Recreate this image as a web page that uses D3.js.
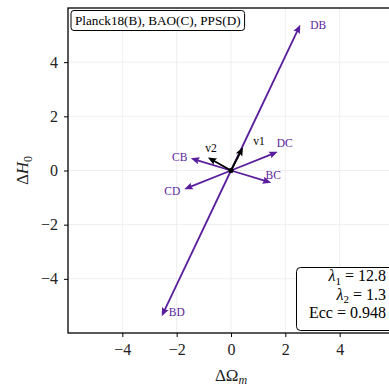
<!DOCTYPE html>
<html>
<head>
<meta charset="utf-8">
<script src="https://cdn.jsdelivr.net/npm/d3@7"></script>
<style>
  html, body { margin: 0; padding: 0; background: #fff; }
  svg { display: block; }
  text { font-family: "Liberation Serif", "DejaVu Serif", serif; }
</style>
</head>
<body>
<svg id="chart" width="389" height="386"></svg>
<script>
// Pairwise tension vectors (ΔΩm, ΔH0) between datasets
const pairNames = ["DB", "BD", "DC", "CD", "CB", "BC"];
const pairDOm   = [2.55, -2.55, 1.72, -1.72, -1.48, 1.48];
const pairDH0   = [5.38, -5.38, 0.69, -0.69, 0.45, -0.45];

// Principal directions
const eigNames = ["v1", "v2"];
const eigDOm   = [0.44, -0.85];
const eigDH0   = [0.86, 0.48];

// Summary statistics
const lambda1 = 12.8;
const lambda2 = 1.3;
const ecc = 0.948;

const legendText = "Planck18(B), BAO(C), PPS(D)";
const xTicks = [-4, -2, 0, 2, 4];
const yTicks = [-4, -2, 0, 2, 4];

// Label nudges (px) relative to each arrow tip
const pairNudge = [[18, 4], [15, 0], [7, -5], [-12, 6], [-11, 3], [2, -4]];
const eigNudge = [[16, -2], [3, -6]];

const purple = "#5a1d9c";
const svg = d3.select("#chart");
const plot = { left: 68, right: 394, top: 8, bottom: 333 };

const x = d3.scaleLinear().domain([-6, 6]).range([plot.left, plot.right]);
const y = d3.scaleLinear().domain([-6, 6]).range([plot.bottom, plot.top]);

// grid
const grid = svg.append("g");
grid.selectAll(".gx").data(xTicks).join("line")
  .attr("x1", d => x(d)).attr("x2", d => x(d))
  .attr("y1", plot.top).attr("y2", plot.bottom)
  .attr("stroke", "#ebebeb").attr("stroke-width", 0.8);
grid.selectAll(".gy").data(yTicks).join("line")
  .attr("y1", d => y(d)).attr("y2", d => y(d))
  .attr("x1", plot.left).attr("x2", plot.right)
  .attr("stroke", "#ebebeb").attr("stroke-width", 0.8);

// axes
const fmt = d => (d < 0 ? "\u2212" + Math.abs(d) : String(d));
const xAxis = svg.append("g").attr("transform", `translate(0,${plot.bottom})`)
  .call(d3.axisBottom(x).tickValues(xTicks).tickFormat(fmt).tickSize(4).tickPadding(7));
const yAxis = svg.append("g").attr("transform", `translate(${plot.left},0)`)
  .call(d3.axisLeft(y).tickValues(yTicks).tickFormat(fmt).tickSize(4).tickPadding(6));
[xAxis, yAxis].forEach(a => {
  a.select(".domain").remove();
  a.selectAll(".tick line").attr("stroke", "#000").attr("stroke-width", 1);
  a.selectAll(".tick text").attr("font-family", "Liberation Serif, serif")
    .attr("font-size", 16).attr("fill", "#222");
});

// frame
svg.append("rect")
  .attr("x", plot.left).attr("y", plot.top)
  .attr("width", plot.right - plot.left).attr("height", plot.bottom - plot.top)
  .attr("fill", "none").attr("stroke", "#000").attr("stroke-width", 1.3);

// arrow drawing in pixel space
function arrow(g, x0, y0, x1, y1, color, shaftW) {
  const dx = x1 - x0, dy = y1 - y0;
  const L = Math.hypot(dx, dy);
  const ux = dx / L, uy = dy / L, nx = -uy, ny = ux;
  const headL = 8.5, headW = 3.6, notch = 7.2;
  const sx = x1 - ux * notch, sy = y1 - uy * notch;
  g.append("line").attr("x1", x0).attr("y1", y0).attr("x2", sx + ux).attr("y2", sy + uy)
    .attr("stroke", color).attr("stroke-width", shaftW);
  const bx = x1 - ux * headL, by = y1 - uy * headL;
  const pts = [[x1, y1], [bx + nx * headW, by + ny * headW], [sx, sy], [bx - nx * headW, by - ny * headW]];
  g.append("path").attr("d", "M" + pts.map(p => p.join(",")).join("L") + "Z").attr("fill", color);
}

const arrows = svg.append("g");
pairNames.forEach((n, i) => {
  const tx = x(pairDOm[i]), ty = y(pairDH0[i]);
  arrow(arrows, x(0), y(0), tx, ty, purple, 1.8);
  arrows.append("text").attr("x", tx + pairNudge[i][0]).attr("y", ty + pairNudge[i][1])
    .attr("text-anchor", "middle").attr("font-size", 11.5).attr("fill", purple).text(n);
});
eigNames.forEach((n, i) => {
  const tx = x(eigDOm[i]), ty = y(eigDH0[i]);
  arrow(arrows, x(0), y(0), tx, ty, "#000", 1.8);
  arrows.append("text").attr("x", tx + eigNudge[i][0]).attr("y", ty + eigNudge[i][1])
    .attr("text-anchor", "middle").attr("font-size", 11.5).attr("fill", "#000").text(n);
});
arrows.append("circle").attr("cx", x(0)).attr("cy", y(0)).attr("r", 2.6).attr("fill", "#000");

// legend box
const leg = svg.append("g");
const legT = leg.append("text").attr("x", 75).attr("y", 25).attr("font-size", 13.2)
  .attr("fill", "#000").text(legendText);
const lw = legT.node().getComputedTextLength();
leg.insert("rect", "text").attr("x", 71).attr("y", 10.5).attr("width", lw + 8).attr("height", 20)
  .attr("rx", 3).attr("fill", "#fff").attr("stroke", "#000").attr("stroke-width", 1);

// statistics box
const st = svg.append("g");
st.append("rect").attr("x", 296.5).attr("y", 267.5).attr("width", 110).attr("height", 63)
  .attr("rx", 4).attr("fill", "#fff").attr("stroke", "#000").attr("stroke-width", 1);
const statRows = [
  { sym: "λ", sub: "1", val: lambda1.toFixed(1), yy: 281 },
  { sym: "λ", sub: "2", val: lambda2.toFixed(1), yy: 299.5 },
  { sym: "Ecc", sub: null, val: ecc.toFixed(3), yy: 318 }
];
statRows.forEach(r => {
  const t = st.append("text").attr("x", 386).attr("y", r.yy).attr("text-anchor", "end")
    .attr("font-size", 16).attr("fill", "#000");
  t.append("tspan").attr("font-style", r.sub ? "italic" : "normal").text(r.sym);
  if (r.sub) {
    t.append("tspan").attr("font-size", 11).attr("dy", 3.5).text(r.sub);
    t.append("tspan").attr("dy", -3.5).text(" = " + r.val);
  } else {
    t.append("tspan").text(" = " + r.val);
  }
});

// axis titles
const xl = svg.append("text").attr("x", x(0)).attr("y", 381).attr("text-anchor", "middle")
  .attr("font-size", 17).attr("fill", "#222");
xl.append("tspan").text("ΔΩ");
xl.append("tspan").attr("font-size", 12).attr("font-style", "italic").attr("dy", 3).text("m");

const yl = svg.append("text").attr("transform", `translate(28,${y(0)}) rotate(-90)`)
  .attr("text-anchor", "middle").attr("font-size", 17).attr("fill", "#222");
yl.append("tspan").text("Δ");
yl.append("tspan").attr("font-style", "italic").text("H");
yl.append("tspan").attr("font-size", 12).attr("dy", 4).text("0");
</script>
</body>
</html>
